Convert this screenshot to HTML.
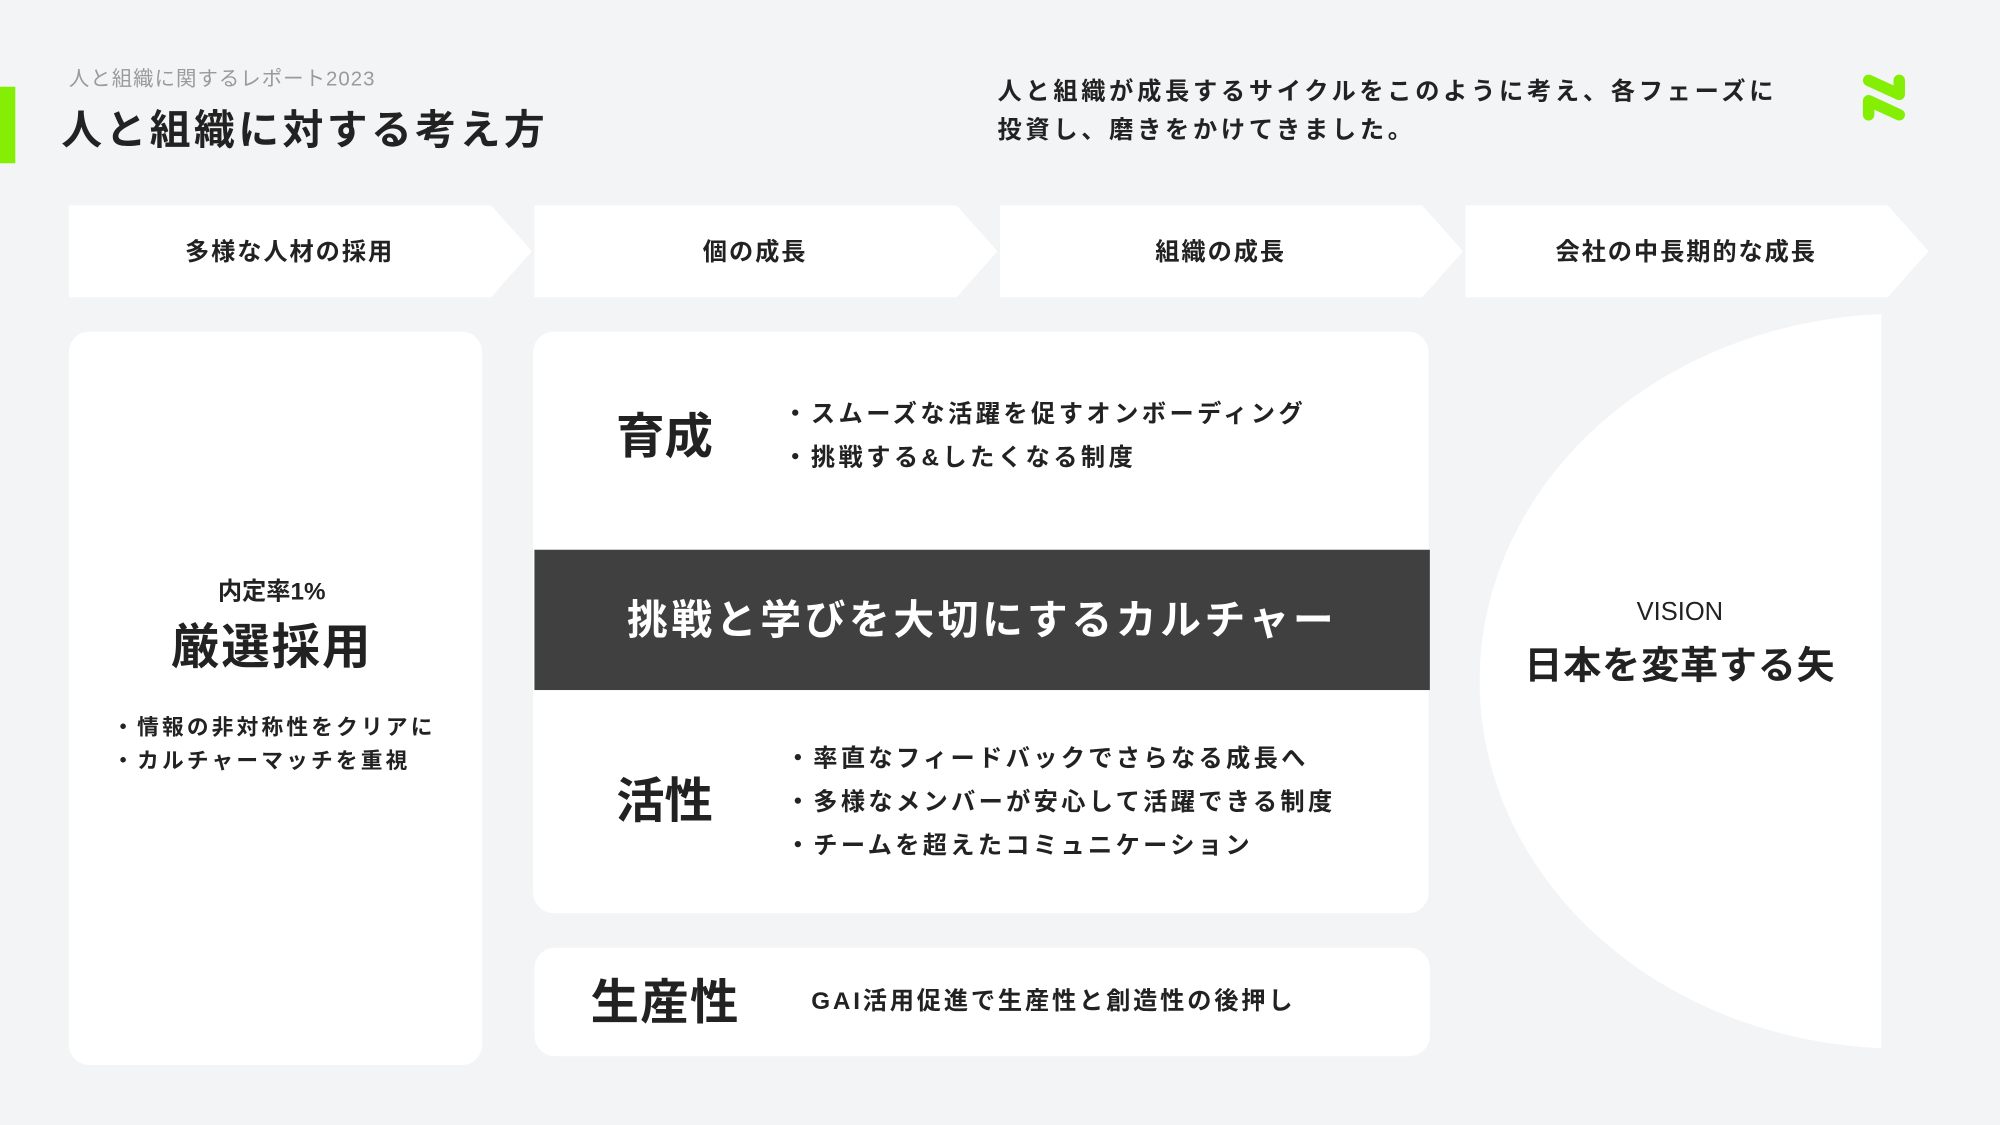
<!DOCTYPE html>
<html><head><meta charset="utf-8"><style>
html,body{margin:0;padding:0;width:2000px;height:1125px;overflow:hidden;background:#f3f4f6}
#s{position:absolute;left:0;top:0;width:1568px;height:882px;transform:scale(1.27551);transform-origin:0 0;font-family:"Liberation Sans","Noto Sans CJK JP",sans-serif;color:#222}
.a{position:absolute;white-space:nowrap}
.b{font-weight:bold}
.c{transform:translateX(-50%)}
.card{position:absolute;background:#fff;border-radius:16px}
</style></head><body><div id="s">
<div class="a" style="left:0;top:68px;width:12px;height:60px;background:#84ef04"></div>
<div class="a" style="left:54px;top:48px;font-size:16px;color:#9a9a9a;letter-spacing:0.8px">人と組織に関するレポート2023</div>
<div class="a b" style="left:48px;top:77px;font-size:32px;letter-spacing:2.7px">人と組織に対する考え方</div>
<div class="a b" style="left:782px;top:58px;font-size:19px;line-height:30px;letter-spacing:2.9px">人と組織が成長するサイクルをこのように考え、各フェーズに<br>投資し、磨きをかけてきました。</div>
<svg class="a" style="left:1455px;top:54px" width="50" height="46" viewBox="0 0 50 46"><polyline points="10,9 34,20 34,9" fill="none" stroke="#84ef04" stroke-width="9" stroke-linecap="round" stroke-linejoin="round"/><polyline points="10,36 10,25 34,36" fill="none" stroke="#84ef04" stroke-width="9" stroke-linecap="round" stroke-linejoin="round"/></svg>
<svg class="a" style="left:0;top:0" width="1568" height="882">
<polygon points="54,161 385,161 417,197 385,233 54,233" fill="#fff"/>
<polygon points="419,161 750,161 782,197 750,233 419,233" fill="#fff"/>
<polygon points="784,161 1115,161 1147,197 1115,233 784,233" fill="#fff"/>
<polygon points="1149,161 1480,161 1512,197 1480,233 1149,233" fill="#fff"/>
<clipPath id="cp"><rect x="1100" y="200" width="375" height="700"/></clipPath>
<ellipse cx="1490" cy="534" rx="330" ry="288" fill="#fff" clip-path="url(#cp)"/>
</svg>
<div class="a b c" style="left:227px;top:183px;font-size:19px;letter-spacing:1.5px">多様な人材の採用</div>
<div class="a b c" style="left:592px;top:183px;font-size:19px;letter-spacing:1.5px">個の成長</div>
<div class="a b c" style="left:957px;top:183px;font-size:19px;letter-spacing:1.5px">組織の成長</div>
<div class="a b c" style="left:1322px;top:183px;font-size:19px;letter-spacing:1.5px">会社の中長期的な成長</div>

<div class="card" style="left:54px;top:260px;width:324px;height:575px"></div>
<div class="a b c" style="left:213px;top:449px;font-size:19px">内定率1%</div>
<div class="a b c" style="left:213px;top:476px;font-size:38px;letter-spacing:1.5px">厳選採用</div>
<div class="a b" style="left:88px;top:558px;font-size:17px;line-height:26px;letter-spacing:2.5px">・情報の非対称性をクリアに<br>・カルチャーマッチを重視</div>

<div class="card" style="left:418px;top:260px;width:702px;height:456px"></div>
<div class="a" style="left:419px;top:431px;width:702px;height:110px;background:#404040"></div>
<div class="a b c" style="left:770px;top:461px;font-size:32px;color:#fff;letter-spacing:2.8px">挑戦と学びを大切にするカルチャー</div>
<div class="a b" style="left:483px;top:311px;font-size:38px">育成</div>
<div class="a b" style="left:614px;top:309px;font-size:19px;line-height:34px;letter-spacing:2.7px">・スムーズな活躍を促すオンボーディング<br>・挑戦する&amp;したくなる制度</div>
<div class="a b" style="left:483px;top:597px;font-size:38px">活性</div>
<div class="a b" style="left:616px;top:579px;font-size:19px;line-height:34px;letter-spacing:2.6px">・率直なフィードバックでさらなる成長へ<br>・多様なメンバーが安心して活躍できる制度<br>・チームを超えたコミュニケーション</div>

<div class="card" style="left:419px;top:743px;width:702px;height:85px"></div>
<div class="a b" style="left:463px;top:755px;font-size:38px;letter-spacing:1px">生産性</div>
<div class="a b" style="left:636px;top:770px;font-size:19px;letter-spacing:2.2px">GAI活用促進で生産性と創造性の後押し</div>

<div class="a c" style="left:1317px;top:469px;font-size:20px;font-weight:500">VISION</div>
<div class="a b c" style="left:1317px;top:497px;font-size:30px;letter-spacing:0.5px">日本を変革する矢</div>
</div></body></html>
